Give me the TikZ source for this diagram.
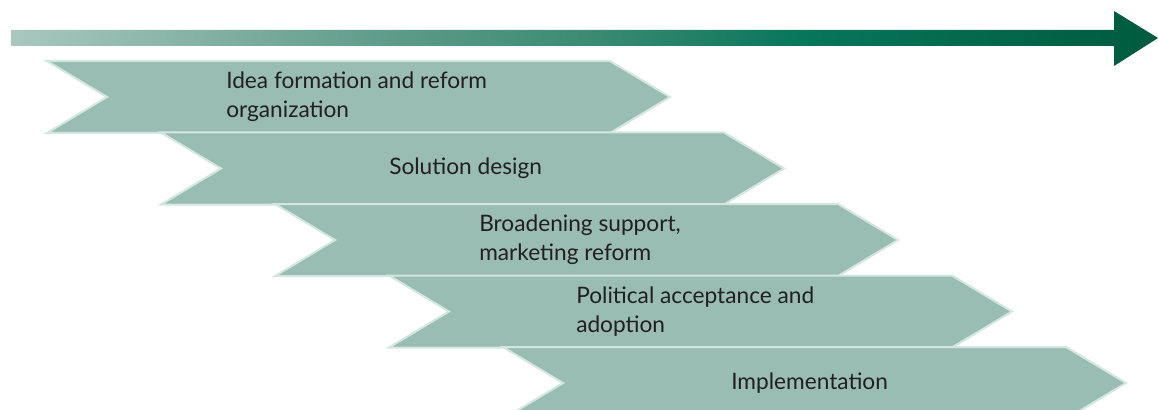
\documentclass[tikz,border=0pt]{standalone}
\usepackage{fontspec}
\setmainfont{Lato}
\usepackage{xcolor}
\usepackage{tikz}
\definecolor{bandfill}{HTML}{99BDB2}
\definecolor{bandedge}{HTML}{D3E6DF}
\definecolor{arrowlight}{HTML}{A9C8BF}
\definecolor{arrowone}{HTML}{5C9A88}
\definecolor{arrowtwo}{HTML}{3A8A72}
\definecolor{arrowthree}{HTML}{07765A}
\definecolor{arrowdark}{HTML}{005A3E}
\definecolor{stagetext}{HTML}{231F20}
\pgfdeclarehorizontalshading{timeshade}{100bp}{color(0bp)=(arrowlight); color(25bp)=(arrowlight);
  color(42bp)=(arrowone); color(50.5bp)=(arrowtwo); color(59.5bp)=(arrowthree);
  color(75bp)=(arrowdark); color(100bp)=(arrowdark)}

\begin{document}
\begin{tikzpicture}[x=0.75pt,y=-0.75pt,
  band/.style={fill=bandfill,draw=bandedge,line width=1.5pt,line join=miter},
  stage/.style={anchor=west,align=left,text=stagetext,inner sep=0pt,
    font=\fontsize{17}{21.75}\selectfont}]
\useasboundingbox (0,0) rectangle (1158,410);
\clip (0,0) rectangle (1158,410);
% time arrow
\shade[shading=timeshade]
  (11,30) -- (1114,30) -- (1114,11) -- (1158,38) -- (1114,66) -- (1114,46) -- (11,46) -- cycle;

% stage bands
\foreach \i in {0,...,4}{
\pgfmathsetmacro{\xl}{47+114*\i}
\pgfmathsetmacro{\yt}{61+71.5*\i}
\draw[band] (\xl,\yt) --++ (563,0) --++ (60,36) --++ (-60,36) --++ (-563,0) --++ (60,-36) -- cycle;
}

\node[stage] (idea) at (226,97) {Idea formation and reform\\organization};
\node[stage] (design) at (389,168.5) {Solution design};
\node[stage] (support) at (479,240) {Broadening support,\\marketing reform};
\node[stage] (adoption) at (576,311.5) {Political acceptance and\\adoption};
\node[stage] (impl) at (731,383) {Implementation};
\end{tikzpicture}
\end{document}
